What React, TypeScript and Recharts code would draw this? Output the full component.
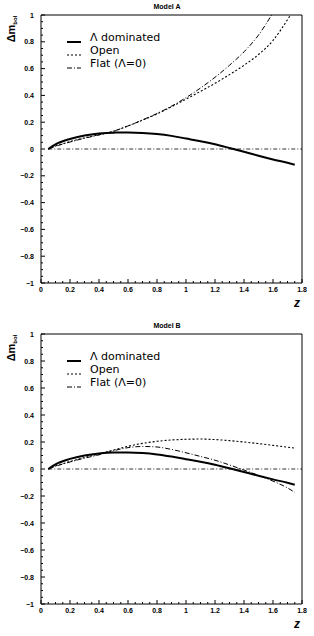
import { LineChart, Line, XAxis, YAxis, ReferenceLine, ReferenceArea, Legend, Label } from 'recharts';

// redshift sample points shared by all curves
const zValues = [0.05, 0.1, 0.2, 0.3, 0.4, 0.5, 0.6, 0.7, 0.8, 0.9, 1.0, 1.1, 1.2, 1.3, 1.4, 1.5, 1.6, 1.7, 1.75];

// Model A
const aLambda = [0, 0.035, 0.075, 0.1, 0.115, 0.122, 0.123, 0.12, 0.112, 0.098, 0.078, 0.058, 0.035, 0.008, -0.02, -0.05, -0.078, -0.103, -0.117];
const aOpen = [0, 0.022, 0.055, 0.083, 0.107, 0.132, 0.172, 0.215, 0.262, 0.315, 0.372, 0.43, 0.49, 0.555, 0.625, 0.705, 0.81, 0.965, 1.05];
const aFlat = [0, 0.02, 0.052, 0.08, 0.105, 0.133, 0.172, 0.217, 0.265, 0.32, 0.383, 0.455, 0.535, 0.625, 0.725, 0.85, 1.015, 1.18, 1.27];

// Model B
const bLambda = [0, 0.035, 0.075, 0.1, 0.115, 0.122, 0.122, 0.118, 0.108, 0.092, 0.073, 0.054, 0.032, 0.006, -0.022, -0.05, -0.077, -0.102, -0.116];
const bOpen = [0, 0.022, 0.055, 0.085, 0.112, 0.14, 0.168, 0.19, 0.205, 0.215, 0.22, 0.222, 0.218, 0.21, 0.2, 0.188, 0.175, 0.162, 0.155];
const bFlat = [0, 0.02, 0.052, 0.08, 0.105, 0.135, 0.158, 0.167, 0.163, 0.145, 0.12, 0.093, 0.065, 0.03, -0.008, -0.047, -0.09, -0.14, -0.173];

const xTicks = Array.from({ length: 37 }, (_, i) => Number((i * 0.05).toFixed(2)));
const yTicks = Array.from({ length: 41 }, (_, i) => Number((-1 + i * 0.05).toFixed(2)));

const seriesStyle = [
  { key: 'lambda', name: 'Λ dominated', width: 2, dash: undefined as string | undefined },
  { key: 'open', name: 'Open', width: 1.1, dash: '2 2' },
  { key: 'flat', name: 'Flat (Λ=0)', width: 1, dash: '5 2 1 2' },
];

const W = 314;
const H = 318;
const tickFont = '"Liberation Sans", Arial, sans-serif';

const isMajor = (v: number) => Math.abs(v / 0.2 - Math.round(v / 0.2)) < 1e-6;
const fmt = (v: number) => {
  const s = String(Number(v.toFixed(2)));
  return s.startsWith('-') ? '−' + s.slice(1) : s;
};

function XTick(props: any) {
  const { x, y, payload } = props;
  const v = payload.value as number;
  const major = isMajor(v);
  return (
    <g>
      <line x1={x} x2={x} y1={y} y2={y - (major ? 4 : 2)} stroke="#000" strokeWidth={1} />
      {major && (
        <text x={x} y={y + 9} textAnchor="middle" fontSize={7} fontWeight="bold" fontFamily={tickFont} fill="#000">
          {fmt(v)}
        </text>
      )}
    </g>
  );
}

function YTick(props: any) {
  const { x, y, payload } = props;
  const v = payload.value as number;
  const major = isMajor(v);
  return (
    <g>
      <line x1={x} x2={x + (major ? 4 : 2)} y1={y} y2={y} stroke="#000" strokeWidth={1} />
      {major && (
        <text x={x - 7} y={y + 2.5} textAnchor="end" fontSize={7} fontWeight="bold" fontFamily={tickFont} fill="#000">
          {fmt(v)}
        </text>
      )}
    </g>
  );
}

function LegendBox() {
  return (
    <div style={{ fontFamily: '"DejaVu Sans", sans-serif', fontSize: 11, lineHeight: '13px', color: '#000' }}>
      {seriesStyle.map((s) => (
        <div key={s.key} style={{ display: 'flex', alignItems: 'flex-end', height: 13 }}>
          <svg width={24} height={13} style={{ display: 'block' }}>
            <line x1={1} x2={15} y1={11} y2={11} stroke="#000" strokeWidth={s.width} strokeDasharray={s.dash} />
          </svg>
          <span>{s.name}</span>
        </div>
      ))}
    </div>
  );
}

function Panel({ title, lambda, open, flat, top, bottom }: { title: string; lambda: number[]; open: number[]; flat: number[]; top: number; bottom: number }) {
  const data = zValues.map((z, i) => ({ z, lambda: lambda[i], open: open[i], flat: flat[i] }));
  return (
    <div style={{ position: 'relative', width: W, height: H }}>
      <div
        style={{
          position: 'absolute',
          left: 0,
          width: W + 20,
          top: top - 12,
          textAlign: 'center',
          fontFamily: tickFont,
          fontSize: 7,
          fontWeight: 'bold',
        }}
      >
        {title}
      </div>
      <LineChart width={W} height={H} data={data} margin={{ top, right: 12, bottom: bottom - 1, left: 40 }}>
        <XAxis
          dataKey="z"
          type="number"
          domain={[0, 1.8]}
          ticks={xTicks}
          interval={0}
          height={1}
          tickSize={0}
          tickMargin={0}
          axisLine={false}
          tickLine={false}
          tick={<XTick />}
        >
          <Label
            content={() => (
              <text x={297} y={H - bottom + 24} textAnchor="middle" fontSize={12} fontWeight="bold" fontStyle="italic" fontFamily={tickFont}>
                z
              </text>
            )}
          />
        </XAxis>
        <YAxis
          type="number"
          domain={[-1, 1]}
          ticks={yTicks}
          interval={0}
          width={1}
          tickSize={0}
          tickMargin={0}
          allowDataOverflow
          axisLine={false}
          tickLine={false}
          tick={<YTick />}
        >
          <Label
            content={() => (
              <text transform={`translate(15,${top + 14}) rotate(-90)`} textAnchor="middle" fontSize={11} fontWeight="bold" fontFamily={tickFont}>
                Δm
                <tspan fontSize={6} dy={2}>
                  bol
                </tspan>
              </text>
            )}
          />
        </YAxis>
        <ReferenceArea x1={0} x2={1.8} y1={-1} y2={1} fill="none" stroke="#000" strokeWidth={1} ifOverflow="visible" />
        <ReferenceLine
          segment={[{ x: 0.05, y: 0 }, { x: 1.8, y: 0 }]}
          stroke="#000"
          strokeWidth={0.8}
          strokeDasharray="4 2 1 2"
        />
        <Legend
          layout="vertical"
          verticalAlign="middle"
          align="center"
          content={() => <LegendBox />}
          wrapperStyle={{ left: 66, top: top + 16, width: 'auto' }}
        />
        {seriesStyle.map((s) => (
          <Line
            key={s.key}
            dataKey={s.key}
            name={s.name}
            type="monotone"
            stroke="#000"
            strokeWidth={s.width}
            strokeDasharray={s.dash}
            dot={false}
            isAnimationActive={false}
          />
        ))}
      </LineChart>
    </div>
  );
}

export default function App() {
  return (
    <div style={{ position: 'absolute', left: 0, top: 0, width: W, height: 636, background: '#fff' }}>
      <Panel title="Model A" lambda={aLambda} open={aOpen} flat={aFlat} top={15} bottom={35} />
      <Panel title="Model B" lambda={bLambda} open={bOpen} flat={bFlat} top={16} bottom={32} />
    </div>
  );
}
